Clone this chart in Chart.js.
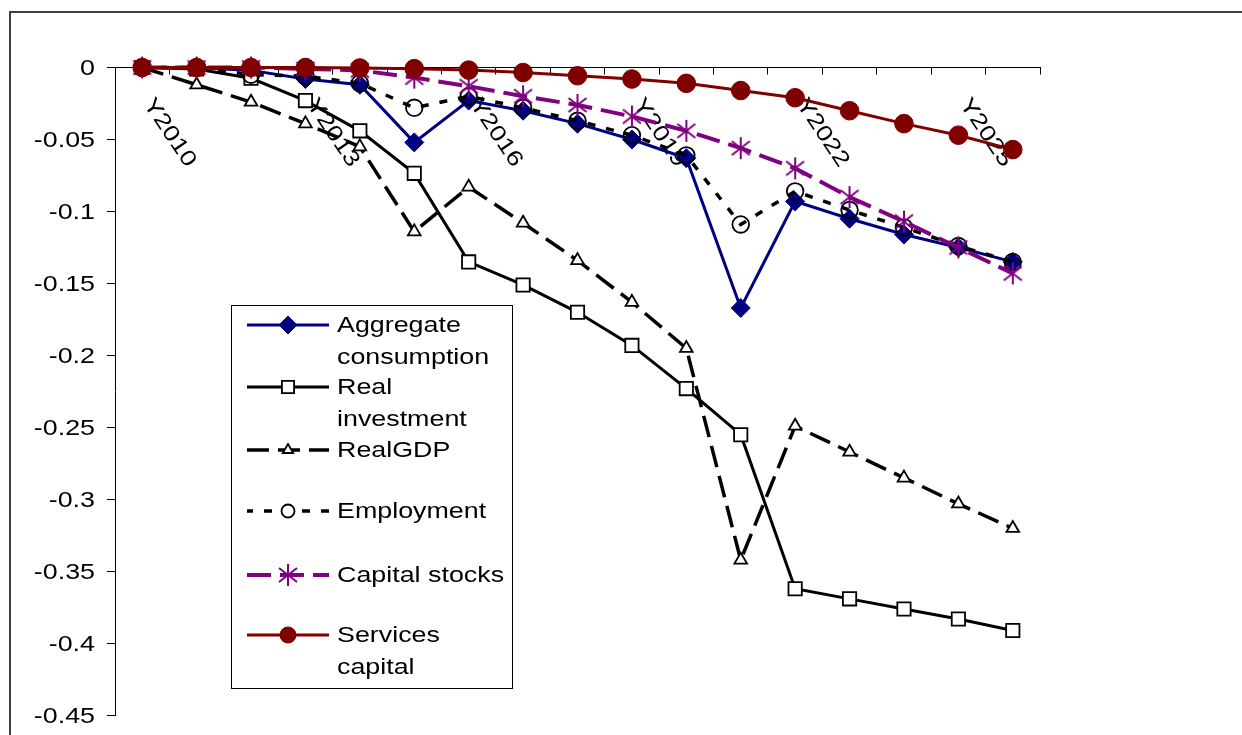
<!DOCTYPE html>
<html>
<head>
<meta charset="utf-8">
<script src="https://cdn.jsdelivr.net/npm/chart.js@4.4.1/dist/chart.umd.min.js"></script>
<style>
  html, body { margin: 0; padding: 0; background: #ffffff; }
  canvas { display: block; }
</style>
</head>
<body>
<canvas id="c" width="1242" height="735"></canvas>
<script>
// Years on the category axis
const categories = ['Y2010','Y2011','Y2012','Y2013','Y2014','Y2015','Y2016','Y2017','Y2018',
                    'Y2019','Y2020','Y2021','Y2022','Y2023','Y2024','Y2025','Y2026'];
// Years that carry a printed label
const xTickLabels = ['Y2010','Y2013','Y2016','Y2019','Y2022','Y2025'];

// Value axis range
const yMin = -0.45;
const yMax = 0;
const yStep = 0.05;

// Deviations from baseline, one value per year
const aggregateConsumption = [0, 0, -0.002, -0.008, -0.012, -0.052, -0.023, -0.030, -0.039,
                              -0.050, -0.063, -0.167, -0.093, -0.105, -0.116, -0.125, -0.135];
const realInvestment       = [0, -0.001, -0.0075, -0.023, -0.044, -0.0735, -0.135, -0.151, -0.170,
                              -0.193, -0.223, -0.255, -0.362, -0.369, -0.376, -0.383, -0.391];
const realGDP              = [0, -0.012, -0.024, -0.039, -0.055, -0.114, -0.083, -0.108, -0.134,
                              -0.163, -0.195, -0.342, -0.249, -0.267, -0.285, -0.303, -0.320];
const employment           = [0, 0, -0.005, -0.006, -0.011, -0.028, -0.020, -0.028, -0.037,
                              -0.047, -0.061, -0.109, -0.086, -0.099, -0.111, -0.124, -0.135];
const capitalStocks        = [0, 0, 0, -0.001, -0.002, -0.007, -0.013, -0.020, -0.026,
                              -0.034, -0.044, -0.056, -0.070, -0.090, -0.107, -0.125, -0.143];
const servicesCapital      = [0, 0, 0, 0, -0.0003, -0.0008, -0.0018, -0.0035, -0.0057,
                              -0.008, -0.011, -0.016, -0.021, -0.030, -0.039, -0.047, -0.057];

// Legend captions (wrapped lines)
const legendLabels = [
  ['Aggregate', 'consumption'],
  ['Real', 'investment'],
  ['RealGDP'],
  ['Employment'],
  ['Capital stocks'],
  ['Services', 'capital']
];

const FONT_FAMILY = '"Liberation Sans", Arial, Helvetica, sans-serif';
const FONT_SIZE = 22;
const TEXT_STRETCH = 1.22;   // wide-set lettering

// Asterisk marker (vertical bar plus a cross)
function makeAsterisk(color) {
  const cv = document.createElement('canvas');
  cv.width = 22; cv.height = 24;
  const g = cv.getContext('2d');
  g.strokeStyle = color;
  g.lineWidth = 2;
  g.beginPath();
  g.moveTo(11, 1);  g.lineTo(11, 23);
  g.moveTo(2, 5);   g.lineTo(20, 19);
  g.moveTo(2, 19);  g.lineTo(20, 5);
  g.stroke();
  return cv;
}
const asterisk = makeAsterisk('#800080');

function wideText(ctx, text, x, y, align, baseline, rot) {
  ctx.save();
  ctx.translate(x, y);
  if (rot) ctx.rotate(rot);
  ctx.scale(TEXT_STRETCH, 1);
  ctx.font = FONT_SIZE + 'px ' + FONT_FAMILY;
  ctx.fillStyle = '#000000';
  ctx.textAlign = align;
  ctx.textBaseline = baseline;
  ctx.fillText(text, 0, 0);
  ctx.restore();
}

function formatTick(v) {
  const r = Math.round(v * 100) / 100;
  return (r === 0 ? 0 : r).toString();
}

// White page with the outer frame
const framePlugin = {
  id: 'frame',
  beforeDraw(chart) {
    const ctx = chart.ctx;
    ctx.save();
    ctx.fillStyle = '#ffffff';
    ctx.fillRect(0, 0, chart.width, chart.height);
    ctx.strokeStyle = '#404040';
    ctx.lineWidth = 2;
    ctx.strokeRect(10, 12, chart.width + 20, chart.height + 20);
    ctx.restore();
  }
};

// Rotated year labels sit under the series
const xLabelPlugin = {
  id: 'xLabels',
  beforeDatasetsDraw(chart) {
    const ctx = chart.ctx;
    const xs = chart.scales.x;
    xTickLabels.forEach(lbl => {
      const px = xs.getPixelForValue(categories.indexOf(lbl));
      wideText(ctx, lbl, px + 0.5, 104, 'left', 'alphabetic', 56 * Math.PI / 180);
    });
  }
};

// Value labels left of the vertical axis
const yLabelPlugin = {
  id: 'yLabels',
  afterDraw(chart) {
    const ctx = chart.ctx;
    const ys = chart.scales.y;
    ys.ticks.forEach(t => {
      const py = ys.getPixelForValue(t.value);
      wideText(ctx, formatTick(t.value), 95, py + 1, 'right', 'middle');
    });
  }
};

// Boxed legend with wrapped captions
const boxLegendPlugin = {
  id: 'boxLegend',
  afterDraw(chart) {
    const ctx = chart.ctx;
    const box = { x: 231.5, y: 305.5, w: 281, h: 383 };
    ctx.save();
    ctx.fillStyle = '#ffffff';
    ctx.fillRect(box.x, box.y, box.w, box.h);
    ctx.strokeStyle = '#000000';
    ctx.lineWidth = 1;
    ctx.strokeRect(box.x, box.y, box.w, box.h);
    ctx.restore();

    const rowY = [325, 387, 450, 511, 575, 635];
    const lineGap = 31.5;
    const x0 = 247, x1 = 329, xm = 288, tx = 337;
    chart.data.datasets.forEach((ds, i) => {
      const y = rowY[i];
      ctx.save();
      ctx.strokeStyle = ds.borderColor;
      ctx.lineWidth = ds.borderWidth;
      ctx.setLineDash(ds.borderDash || []);
      ctx.lineDashOffset = ds.legendDashOffset || 0;
      ctx.beginPath();
      ctx.moveTo(x0, y);
      ctx.lineTo(x1, y);
      ctx.stroke();
      ctx.setLineDash([]);
      ctx.fillStyle = ds.legendPointFill || ds.pointBackgroundColor;
      ctx.strokeStyle = ds.pointBorderColor;
      ctx.lineWidth = ds.pointBorderWidth;
      Chart.helpers.drawPoint(ctx, {
        pointStyle: ds.pointStyle,
        radius: ds.legendPointRadius,
        borderWidth: ds.pointBorderWidth,
        rotation: 0
      }, xm, y);
      ctx.restore();
      legendLabels[i].forEach((line, k) => {
        wideText(ctx, line, tx, y + k * lineGap + 1, 'left', 'middle');
      });
    });
  }
};

const ctx = document.getElementById('c').getContext('2d');
new Chart(ctx, {
  type: 'line',
  data: {
    labels: categories,
    datasets: [
      {
        label: 'Aggregate consumption',
        data: aggregateConsumption,
        borderColor: '#000080', borderWidth: 3,
        pointStyle: 'rectRot', pointRadius: 9.5, legendPointRadius: 9,
        pointBackgroundColor: '#000080', pointBorderColor: '#000080', pointBorderWidth: 1,
        order: 6
      },
      {
        label: 'Real investment',
        data: realInvestment,
        borderColor: '#000000', borderWidth: 3,
        pointStyle: 'rect', pointRadius: 9.4, legendPointRadius: 8.6,
        pointBackgroundColor: '#ffffff', pointBorderColor: '#000000', pointBorderWidth: 1.8,
        order: 5
      },
      {
        label: 'RealGDP',
        data: realGDP,
        borderColor: '#000000', borderWidth: 3.5, borderDash: [22, 9], legendDashOffset: 0,
        pointStyle: 'triangle', pointRadius: 7.3, legendPointRadius: 6,
        pointBackgroundColor: '#ffffff', pointBorderColor: '#000000', pointBorderWidth: 1.8,
        order: 4
      },
      {
        label: 'Employment',
        data: employment,
        borderColor: '#000000', borderWidth: 3.5, borderDash: [8, 11], legendDashOffset: 2,
        pointStyle: 'circle', pointRadius: 8.3, legendPointRadius: 6.5, legendPointFill: '#ffffff',
        pointBackgroundColor: 'rgba(255,255,255,0)', pointBorderColor: '#000000', pointBorderWidth: 1.8,
        order: 3
      },
      {
        label: 'Capital stocks',
        data: capitalStocks,
        borderColor: '#800080', borderWidth: 4, borderDash: [24, 9],
        pointStyle: asterisk, pointRadius: 10, legendPointRadius: 10,
        pointBackgroundColor: '#800080', pointBorderColor: '#800080', pointBorderWidth: 2,
        order: 2
      },
      {
        label: 'Services capital',
        data: servicesCapital,
        borderColor: '#800000', borderWidth: 3,
        pointStyle: 'circle', pointRadius: 9.3, legendPointRadius: 8,
        pointBackgroundColor: '#800000', pointBorderColor: '#800000', pointBorderWidth: 1,
        order: 1
      }
    ].map(d => Object.assign({ tension: 0, clip: false, fill: false, pointHoverRadius: d.pointRadius }, d))
  },
  options: {
    responsive: false,
    devicePixelRatio: 1,
    animation: false,
    events: [],
    layout: { padding: { left: 0, top: 0, right: 202, bottom: 19.5 } },
    plugins: {
      legend: { display: false },
      tooltip: { enabled: false },
      title: { display: false }
    },
    scales: {
      x: {
        type: 'category',
        position: 'top',
        offset: true,
        grid: {
          offset: true,
          drawOnChartArea: false,
          drawTicks: true,
          tickLength: -7,
          color: '#000000',
          lineWidth: 1
        },
        border: { display: true, color: '#000000', width: 1 },
        ticks: { display: false },
        afterFit(scale) { scale.height = 67.5; }
      },
      y: {
        min: yMin,
        max: yMax,
        ticks: { display: false, stepSize: yStep },
        grid: {
          drawOnChartArea: false,
          drawTicks: true,
          tickLength: 8,
          color: '#000000',
          lineWidth: 1
        },
        border: { display: true, color: '#000000', width: 1 },
        afterFit(scale) { scale.width = 115; }
      }
    }
  },
  plugins: [framePlugin, xLabelPlugin, yLabelPlugin, boxLegendPlugin]
});
</script>
</body>
</html>
